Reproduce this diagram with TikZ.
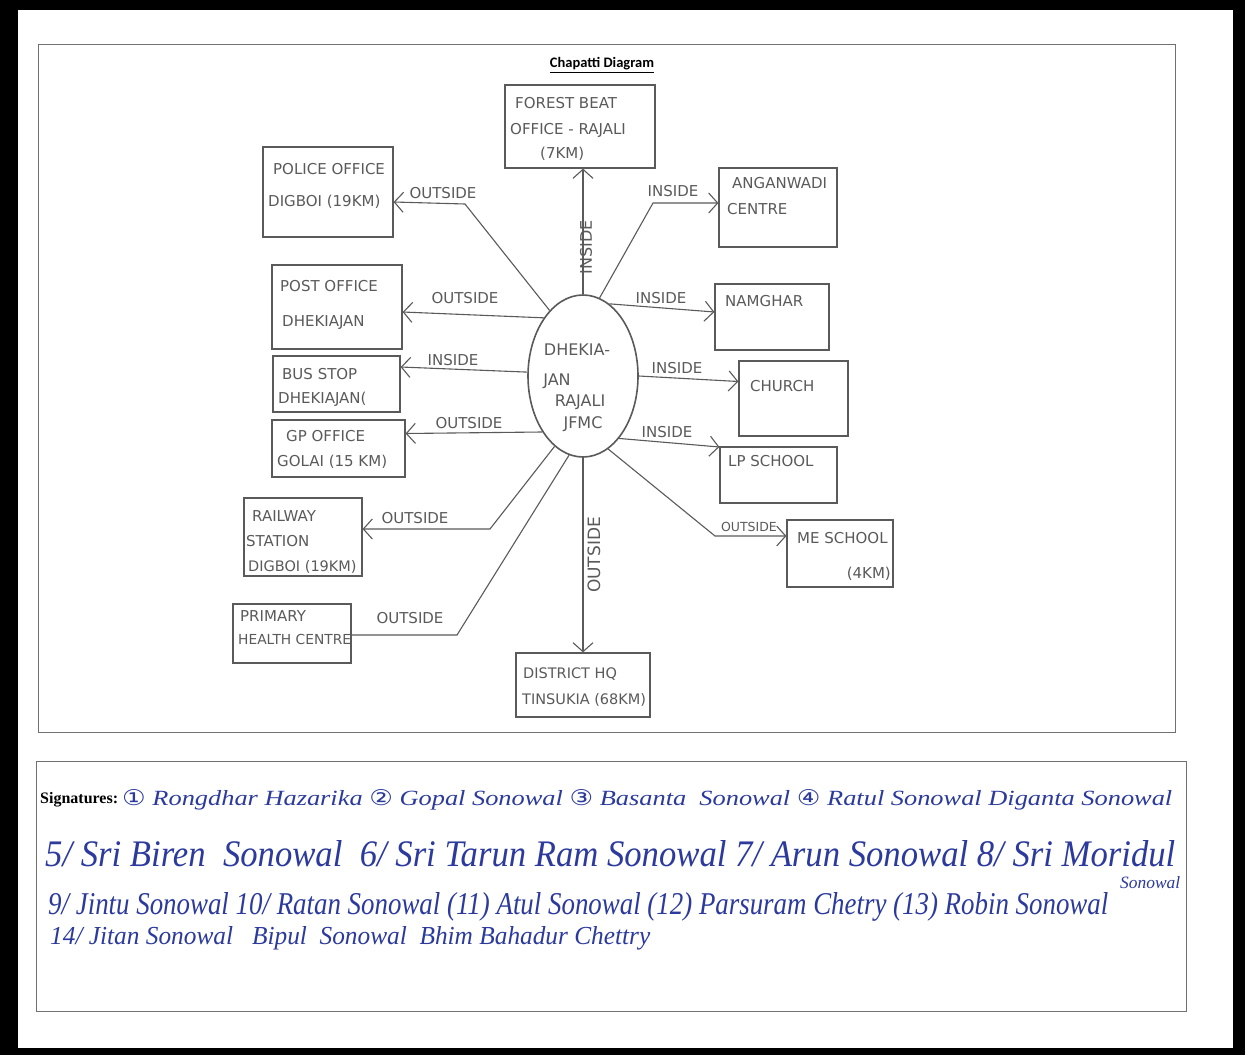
\documentclass[tikz,border=0pt]{standalone}
\usepackage{fontspec}
\usepackage{graphicx}
\setmainfont{Liberation Serif}
\newfontfamily\handfont{DejaVu Sans}
\newfontfamily\titlefont{Carlito}
\newfontfamily\sigfont{Liberation Serif}
\newfontfamily\dvs{DejaVu Sans}
\usetikzlibrary{arrows.meta,shapes.geometric}
\definecolor{pencil}{HTML}{5A5A5A}
\definecolor{frameline}{HTML}{707070}
\definecolor{ink}{HTML}{2B3A9C}
\begin{document}
\begin{tikzpicture}[x=1pt,y=-1pt,
  box/.style={draw=pencil, line width=1.2pt, rectangle, inner sep=0pt},
  txt/.style={text=pencil, font=\handfont\fontsize{15}{17}\selectfont, inner sep=0pt, anchor=base west},
  lbl/.style={text=pencil, font=\handfont\fontsize{15}{17}\selectfont, inner sep=0pt},
  conn/.style={draw=pencil, line width=1.1pt},
  arr/.style={conn, -{Straight Barb[length=9pt,width=20pt]}},
  sig/.style={text=ink, font=\sigfont\itshape\fontsize{16}{18}\selectfont, inner sep=0pt, anchor=base west},
  frame/.style={draw=frameline, line width=1pt}
]
% scan background
\fill[black] (0,0) rectangle (1245,1055);
\fill[white] (18,10) rectangle (1233,1048);
% frames
\draw[frame] (38,44) rectangle (1175,732);
\draw[frame] (36,761) rectangle (1186,1011);
% title
\node[font=\titlefont\bfseries\fontsize{14.5}{16}\selectfont, inner sep=0pt] (title) at (602,65) {\underline{Chapatti Diagram}};

% centre
\node[draw=pencil, line width=1.6pt, ellipse, minimum width=110pt, minimum height=162pt, inner sep=0pt] (circ) at (583,376) {};
\node[txt, anchor=center, font=\handfont\fontsize{16}{18}\selectfont] (cA) at (577,350) {DHEKIA-};
\node[txt, anchor=center, font=\handfont\fontsize{16}{18}\selectfont] (cB) at (557,381) {JAN};
\node[txt, anchor=center, font=\handfont\fontsize{16}{18}\selectfont] (cC) at (580,402) {RAJALI};
\node[txt, anchor=center, font=\handfont\fontsize{16}{18}\selectfont] (cD) at (583,424) {JFMC};

% boxes
\node[box, minimum width=150pt, minimum height=83pt] (forest) at (580,126.5) {};
\node[box, minimum width=130pt, minimum height=90pt] (police) at (328,192) {};
\node[box, minimum width=118pt, minimum height=79pt] (anganwadi) at (778,207.5) {};
\node[box, minimum width=130pt, minimum height=84pt] (post) at (337,307) {};
\node[box, minimum width=114pt, minimum height=66pt] (namghar) at (772,317) {};
\node[box, minimum width=127pt, minimum height=56pt] (bus) at (336.5,384) {};
\node[box, minimum width=109pt, minimum height=75pt] (church) at (793.5,398.5) {};
\node[box, minimum width=133pt, minimum height=57pt] (gp) at (338.5,448.5) {};
\node[box, minimum width=117pt, minimum height=56pt] (lp) at (778.5,475) {};
\node[box, minimum width=118pt, minimum height=78pt] (railway) at (303,537) {};
\node[box, minimum width=106pt, minimum height=67pt] (me) at (840,553.5) {};
\node[box, minimum width=118pt, minimum height=59pt] (primary) at (292,633.5) {};
\node[box, minimum width=134pt, minimum height=64pt] (district) at (583,685) {};

% box texts
\node[txt] (forestA) at (515,108) {FOREST BEAT};
\node[txt] (forestB) at (510,134) {OFFICE - RAJALI};
\node[txt] (forestC) at (540,158) {(7KM)};
\node[txt] (policeA) at (273,174) {POLICE OFFICE};
\node[txt] (policeB) at (268,206) {DIGBOI (19KM)};
\node[txt] (anganwadiA) at (732,188) {ANGANWADI};
\node[txt] (anganwadiB) at (727,214) {CENTRE};
\node[txt] (postA) at (280,291) {POST OFFICE};
\node[txt] (postB) at (282,326) {DHEKIAJAN};
\node[txt] (namgharA) at (725,306) {NAMGHAR};
\node[txt] (busA) at (282,379) {BUS STOP};
\node[txt] (busB) at (278,403) {DHEKIAJAN(};
\node[txt] (churchA) at (750,391) {CHURCH};
\node[txt] (gpA) at (286,441) {GP OFFICE};
\node[txt] (gpB) at (277,466) {GOLAI (15 KM)};
\node[txt] (lpA) at (728,466) {LP SCHOOL};
\node[txt] (railwayA) at (252,521) {RAILWAY};
\node[txt] (railwayB) at (246,546) {STATION};
\node[txt, font=\handfont\fontsize{14.5}{17}\selectfont] (railwayC) at (248,571) {DIGBOI (19KM)};
\node[txt] (meA) at (797,543) {ME SCHOOL};
\node[txt, anchor=base east] (meB) at (891,578) {(4KM)};
\node[txt] (primaryA) at (240,621) {PRIMARY};
\node[txt, font=\handfont\fontsize{13.8}{17}\selectfont] (primaryB) at (238,644) {HEALTH CENTRE};
\node[txt, font=\handfont\fontsize{14.5}{17}\selectfont] (districtA) at (523,678) {DISTRICT HQ};
\node[txt, font=\handfont\fontsize{14.5}{17}\selectfont] (districtB) at (522,704) {TINSUKIA (68KM)};

% bend points
\coordinate (bPolice) at (465,204);
\coordinate (bAng) at (653,203);
\coordinate (bMe) at (715,536);
\coordinate (bRail) at (490,529);
\coordinate (bPrim) at (457,635);

% connectors
\draw[arr] (circ.north) -- (circ.north |- forest.south);
\draw[arr] (circ.117) -- (bPolice) -- ([yshift=-10pt]police.east);
\draw[arr] (circ.78) -- (bAng) -- (bAng -| anganwadi.west);
\draw[arr] (circ.124) -- ([yshift=-5pt]post.east);
\draw[arr] (circ.70) -- ([yshift=5pt]namghar.west);
\draw[arr] (circ.176) -- ([yshift=17pt]bus.east);
\draw[arr] (circ.east) -- ([yshift=17pt]church.west);
\draw[arr] (circ.234) -- ([yshift=15pt]gp.east);
\draw[arr] (circ.-60) -- ([yshift=28pt]lp.west);
\draw[arr] (circ.-71) -- (bMe) -- (bMe -| me.west);
\draw[arr] (circ.south) -- (circ.south |- district.north);
\draw[arr] (circ.248) -- (bRail) -- (bRail -| railway.east);
\draw[conn] (circ.260) -- (bPrim) -- (bPrim -| primary.east);

% connector labels
\node[lbl, rotate=90, font=\handfont\fontsize{16}{18}\selectfont] (lForest) at (586,247) {INSIDE};
\node[lbl] (lPolice) at (443,193) {OUTSIDE};
\node[lbl] (lAng) at (673,191) {INSIDE};
\node[lbl] (lPost) at (465,298) {OUTSIDE};
\node[lbl] (lNam) at (661,298) {INSIDE};
\node[lbl] (lBus) at (453,360) {INSIDE};
\node[lbl] (lChurch) at (677,368) {INSIDE};
\node[lbl] (lGp) at (469,423) {OUTSIDE};
\node[lbl] (lLp) at (667,432) {INSIDE};
\node[lbl, font=\handfont\fontsize{12.5}{14}\selectfont] (lMe) at (749,527) {OUTSIDE};
\node[lbl, rotate=90, font=\handfont\fontsize{17}{19}\selectfont] (lDist) at (594,555) {OUTSIDE};
\node[lbl] (lRail) at (415,518) {OUTSIDE};
\node[lbl] (lPrim) at (410,618) {OUTSIDE};

% signatures
\node[font=\sigfont\bfseries\fontsize{16}{18}\selectfont, inner sep=0pt, anchor=base west] (sigT) at (40,803) {Signatures:};
\node[sig] (sig1) at (122,805) {\resizebox{1050pt}{16pt}{{\dvs ①} Rongdhar Hazarika {\dvs ②} Gopal Sonowal {\dvs ③} Basanta \ Sonowal {\dvs ④} Ratul Sonowal Diganta Sonowal}};
\node[sig] (sig2) at (45,866) {\resizebox{1130pt}{26pt}{5/ Sri Biren \ Sonowal \ 6/ Sri Tarun Ram Sonowal 7/ Arun Sonowal 8/ Sri Moridul}};
\node[sig] (sig2b) at (1120,888) {\resizebox{60pt}{12pt}{Sonowal}};
\node[sig] (sig3) at (48,914) {\resizebox{1060pt}{22pt}{9/ Jintu Sonowal 10/ Ratan Sonowal (11) Atul Sonowal (12) Parsuram Chetry (13) Robin Sonowal}};
\node[sig] (sig4) at (50,944) {\resizebox{600pt}{18pt}{14/ Jitan Sonowal \ \ Bipul \ Sonowal \ Bhim Bahadur Chettry}};
\end{tikzpicture}
\end{document}
